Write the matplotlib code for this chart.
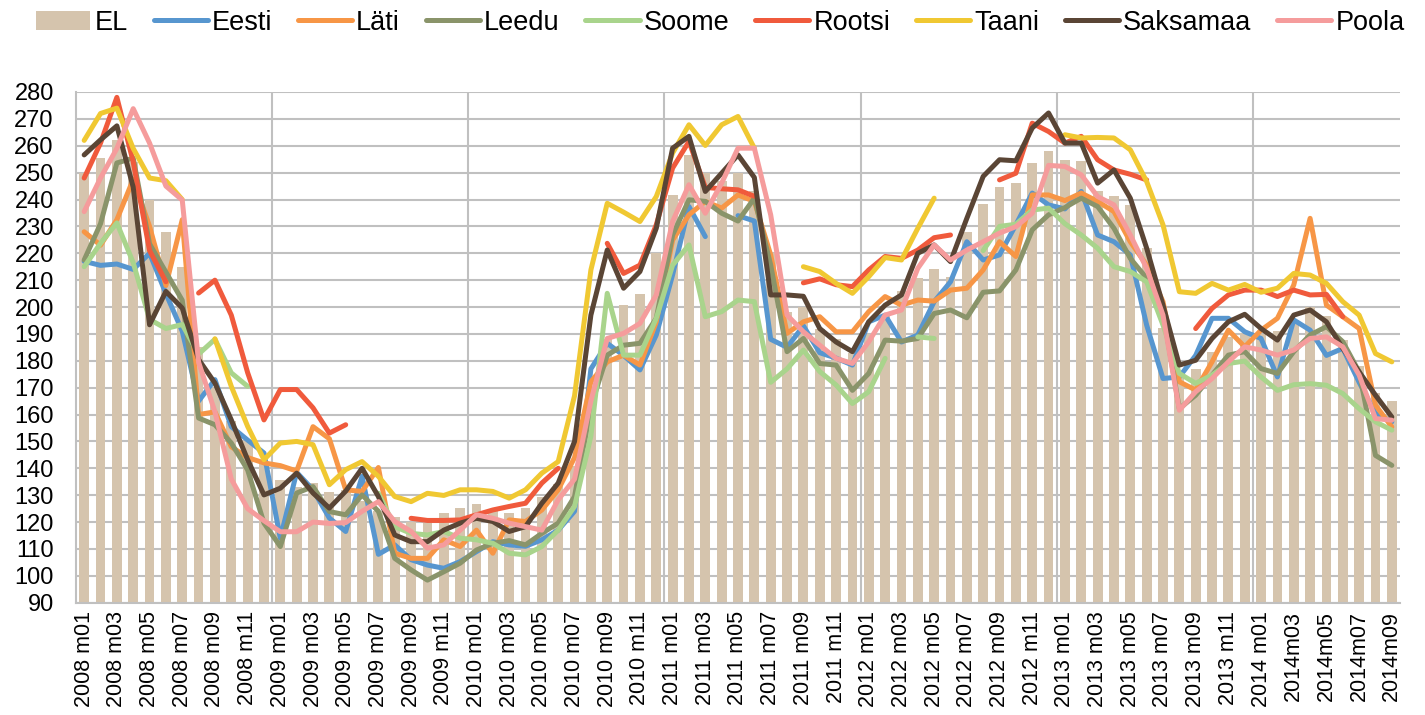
import numpy as np
import matplotlib
matplotlib.use("Agg")
import matplotlib.pyplot as plt

plt.rcParams['font.family'] = ['Liberation Sans', 'DejaVu Sans']

nan = np.nan

# Categories: 2008 m01 ... 2014 m09
years = [2008, 2009, 2010, 2011, 2012, 2013, 2014]
categories = []
for y in years:
    for m in range(1, 13):
        if y == 2014 and m > 9:
            break
        categories.append((y, m))

tick_labels = []
for (y, m) in categories:
    if y == 2014 and m >= 3:
        tick_labels.append(f"{y}m{m:02d}")
    else:
        tick_labels.append(f"{y} m{m:02d}")

EL = [250, 255.5, 262, 254, 240, 228, 215, 185, 170, 157.5, 150, 142,
      135.6, 133, 134.7, 131, 132, 128, 124, 122, 120, 119.6, 123.5, 125.4,
      126.8, 124.5, 123.3, 125.2, 129.5, 134, 141, 170, 188, 200.7, 205, 220,
      241.7, 256.6, 250, 247, 250, 243, 220, 198, 200, 192, 188, 183,
      190, 197, 206, 210.7, 214, 211, 228, 238.3, 244.6, 246.3, 253.5, 258,
      254.8, 254.4, 243, 241.4, 238, 222, 192.3, 176, 177, 183.4, 188.9, 190.2,
      190, 191, 195, 200, 196.8, 187.7, 178, 168, 165]

Eesti = [217, 215.5, 216, 214, 220, 205, 191, 165, 173, 155.5, 150.5, 145.7,
         114, 138.5, 132, 121.5, 116.5, 137, 108, 111.5, 106, 104, 102.8, 105.3,
         109, 112.7, 111.5, 111, 113.4, 117, 124, 177, 186.5, 182, 176.6, 189.6,
         212, 237.4, 226.2, nan, 234, 232, 188, 185, 193, 183, 181, 178.4,
         194.5, 197, 187, 189.6, 202, 209.4, 224.3, 217.5, 219.4, 230.6, 242.4, 238,
         236.5, 243, 226.8, 224.3, 219.4, 193.3, 173.4, 174, 182, 195.8, 195.8, 190.8,
         188.3, 174, 195.2, 191.4, 182, 184.6, 172, 160.4, 157.3]

Lati = [228, 223, 232.5, 247.5, 230, 208, 232.5, 160, 161, 148, 144, 142,
        141, 139, 155.5, 151, 132, 131.4, 140.3, 108.4, 106.5, 106.5, 113.4, 110.9,
        117, 108.4, 120.8, 120.2, 124.5, 132, 144, 172.2, 179.6, 182.1, 178.4, 194.5,
        224.9, 234.3, 239.3, 236.8, 241.7, 239.3, 219.4, 190.2, 194.5, 196.4, 190.8, 190.8,
        198.3, 203.9, 200.7, 202.6, 202.2, 206.3, 207, 213.8, 224.3, 218.8, 241.7, 241.7,
        239.6, 242.4, 239.3, 235.5, 224.3, 215.6, 202, 172.2, 169.1, 179.6, 191.4, 185.2,
        191.4, 195.8, 208.2, 233, 200.7, 196.4, 192, 163.5, 155.4]

Leedu = [217.5, 231, 253.6, 255.4, 223.5, 213, 202.5, 158.7, 156.2, 149.4, 139.4, 119.6,
         110.9, 130.8, 133.2, 123.9, 122.7, 130.1, 124, 106.5, 102.2, 98.4, 101.5, 104.7,
         109.6, 112.1, 113.1, 111.5, 115.8, 119.6, 129.5, 163, 182.1, 185.8, 186.5, 195.8,
         226.8, 239.9, 239.3, 234.9, 232, 240.5, 215.6, 183.4, 188.3, 179, 178.4, 169,
         175.3, 187.7, 187.3, 188.3, 197.6, 198.9, 196, 205.5, 206, 213.8, 228.7, 234.3,
         237, 240.5, 237.4, 229.3, 218.1, 210.7, 198.3, 162.2, 167.2, 174.7, 182.1, 183.4,
         177.1, 175.3, 183.4, 189.6, 192.7, 187.1, 175.9, 144.8, 141.1]

Soome = [215, 223.7, 231.3, 216.5, 195.4, 192, 193.5, 182.5, 188, 175.5, 170.5, nan,
         nan, nan, nan, nan, nan, nan, 130.7, 118.3, 115.8, 115.2, 116.5, 114,
         113.4, 112.1, 108.4, 107.8, 110.9, 117, 125.8, 152, 205.1, 182.1, 182.1, 195.8,
         215.6, 223.1, 196.4, 198.3, 202.6, 202, 172, 177, 184, 176, 171, 164.1,
         168.5, 180.9, nan, 188.9, 188.3, nan, nan, 221, 230, 230.8, 236.1, 236.8,
         231, 226.8, 221.9, 215, 213.2, 209.4, 193.3, 175.3, 171.6, 174.7, 179, 179.9,
         174, 169, 171.1, 171.5, 170.9, 167.8, 162.2, 157.3, 154.2]

Rootsi = [248, 261, 278, 254, 221, 209.4, nan, 205.2, 210, 197, 175.6, 158,
          169.3, 169.3, 162.5, 153.1, 156.2, nan, nan, nan, 121.4, 120.6, 120.6, 120.8,
          122.7, 124.5, 125.8, 127, 134.5, 140, nan, nan, 223.7, 212.5, 215.6, 230.6,
          251.7, 261.6, 244.5, 244, 243.6, 241.2, nan, nan, 209, 210.5, 208.3, 207.6,
          213.8, 218.8, 218.1, 221.2, 225.8, 226.8, nan, nan, 247.3, 249.8, 268.4, 265.3,
          261, 263.5, 254.8, 251, 249.4, 247.3, nan, nan, 192, 199.5, 204.5, 206.3,
          206.3, 203.9, 206.3, 204.5, 204.7, 196.4, nan, nan, nan]

Taani = [262, 272, 274, 259, 248, 247, 240, nan, 188.2, 170.5, 155.6, 143.2,
         149.4, 150, 148.8, 133.9, 139.5, 142.5, 137, 129.5, 127.6, 130.7, 129.9, 132,
         132, 131.4, 128.9, 132, 138.2, 142.5, 167, 213.8, 238.6, 235.3, 231.8, 241.1,
         257.3, 267.8, 260.1, 267.8, 270.9, 259.1, nan, nan, 215, 213.2, 208.8, 205.1,
         211.3, 218.4, 217.5, 229.3, 240.5, nan, nan, nan, nan, nan, nan, nan,
         264.1, 262.9, 263.1, 262.9, 258.5, 246.7, 230.6, 205.7, 205.1, 208.8, 206.3, 208.4,
         205.5, 207, 212.5, 211.9, 208.8, 202, 197, 182.7, 179.6]

Saksamaa = [256.6, 262.2, 267.4, 244.6, 193.4, 205.8, 199.6, 180.5, 171.7, 158, 143.2, 130.1,
            132.6, 138.2, 130.8, 125.2, 131.5, 140, 129.5, 115.2, 112.7, 112.7, 117, 119.6,
            121.4, 120.2, 116.5, 118.3, 127, 134.5, 150, 197, 221.2, 207, 213.2, 229.3,
            259.1, 263.5, 243, 249.8, 256.6, 248.2, 204.5, 204.5, 204, 192, 187, 183.4,
            194.5, 200.7, 204.5, 220, 223.1, 216.9, 233, 248.6, 254.8, 254.4, 266.6, 272.2,
            261, 261, 246.1, 251, 240.5, 221.9, 200.7, 178.4, 180.2, 188.3, 194.5, 197.3,
            192, 187.7, 197, 198.9, 194.5, 184.6, 175.9, 167.2, 159.1]

Poola = [235.5, 248, 259, 273.8, 261, 245, 239.8, 179.5, 161, 136, 125, 120.5,
         116.4, 116.4, 120, 119.5, 119.8, 124, 127.6, 120.2, 116.5, 110.3, 111.5, 117,
         122.7, 121.4, 119.6, 118.3, 117, 128.3, 136, 165, 188.3, 190.2, 193.9, 204.5,
         231.8, 245.5, 234.9, 246.1, 259.1, 259.1, 234.3, 197, 190.8, 185.8, 180.9, 179,
         187.1, 197, 198.9, 214.4, 223.1, 217.5, 221.2, 224.3, 227.5, 229.9, 234.9, 252.7,
         252.3, 249.2, 241.1, 238, 226.8, 214.4, 197, 161.6, 168.5, 173.4, 179.6, 185.2,
         184, 182.1, 184, 188.3, 188.9, 185.2, 174.7, 158.5, 157.9]

series = [
    ("Eesti", Eesti, "#5796CF"),
    ("Läti", Lati, "#F79646"),
    ("Leedu", Leedu, "#8A946A"),
    ("Soome", Soome, "#A9D48C"),
    ("Rootsi", Rootsi, "#F05A3C"),
    ("Taani", Taani, "#F0C832"),
    ("Saksamaa", Saksamaa, "#5A4535"),
    ("Poola", Poola, "#F59C9C"),
]

fig = plt.figure(figsize=(14.25, 7.15), dpi=100)
ax = fig.add_axes([76 / 1425, 1 - 602.7 / 715, (1400 - 76) / 1425, (602.7 - 92) / 715])

x = np.arange(len(categories))
ax.bar(x, EL, width=0.6, color="#D5C4AD", label="EL", zorder=2)
for name, vals, col in series:
    ax.plot(x, np.array(vals, dtype=float), color=col, lw=3.6, label=name,
            solid_capstyle="round", solid_joinstyle="round", zorder=3)

ax.set_ylim(90, 280)
ax.set_xlim(-0.5, len(categories) - 0.5)
ax.set_yticks(np.arange(90, 281, 10))
ax.yaxis.grid(True, color="#C0C0C0", lw=1.5, zorder=0)
for k in range(1, 7):
    ax.axvline(12 * k - 0.5, color="#C0C0C0", lw=1.5, zorder=0)
ax.set_axisbelow(True)

ax.set_xticks(x[::2])
ax.set_xticklabels(tick_labels[::2], rotation=90, fontsize=15.5)
ax.tick_params(axis="x", length=0, pad=6)
ax.tick_params(axis="y", length=0, labelsize=17, pad=16)

for s in ["top", "right"]:
    ax.spines[s].set_visible(False)
for s in ["left", "bottom"]:
    ax.spines[s].set_color("#C0C0C0")
    ax.spines[s].set_linewidth(1.5)

handles, labels = ax.get_legend_handles_labels()
order = [labels.index("EL")] + [i for i, l in enumerate(labels) if l != "EL"]
leg = fig.legend([handles[i] for i in order], [labels[i] for i in order],
                 loc="center", bbox_to_anchor=(0.5 + 0.5 * 36 / 1425 - 0.5 * 20 / 1425, 0.968),
                 ncol=9, frameon=False,
                 fontsize=19.5, handlelength=2.0, handletextpad=0.15, columnspacing=0.95,
                 handleheight=0.75, borderpad=0.1)

fig.savefig("out.png", dpi=100)
